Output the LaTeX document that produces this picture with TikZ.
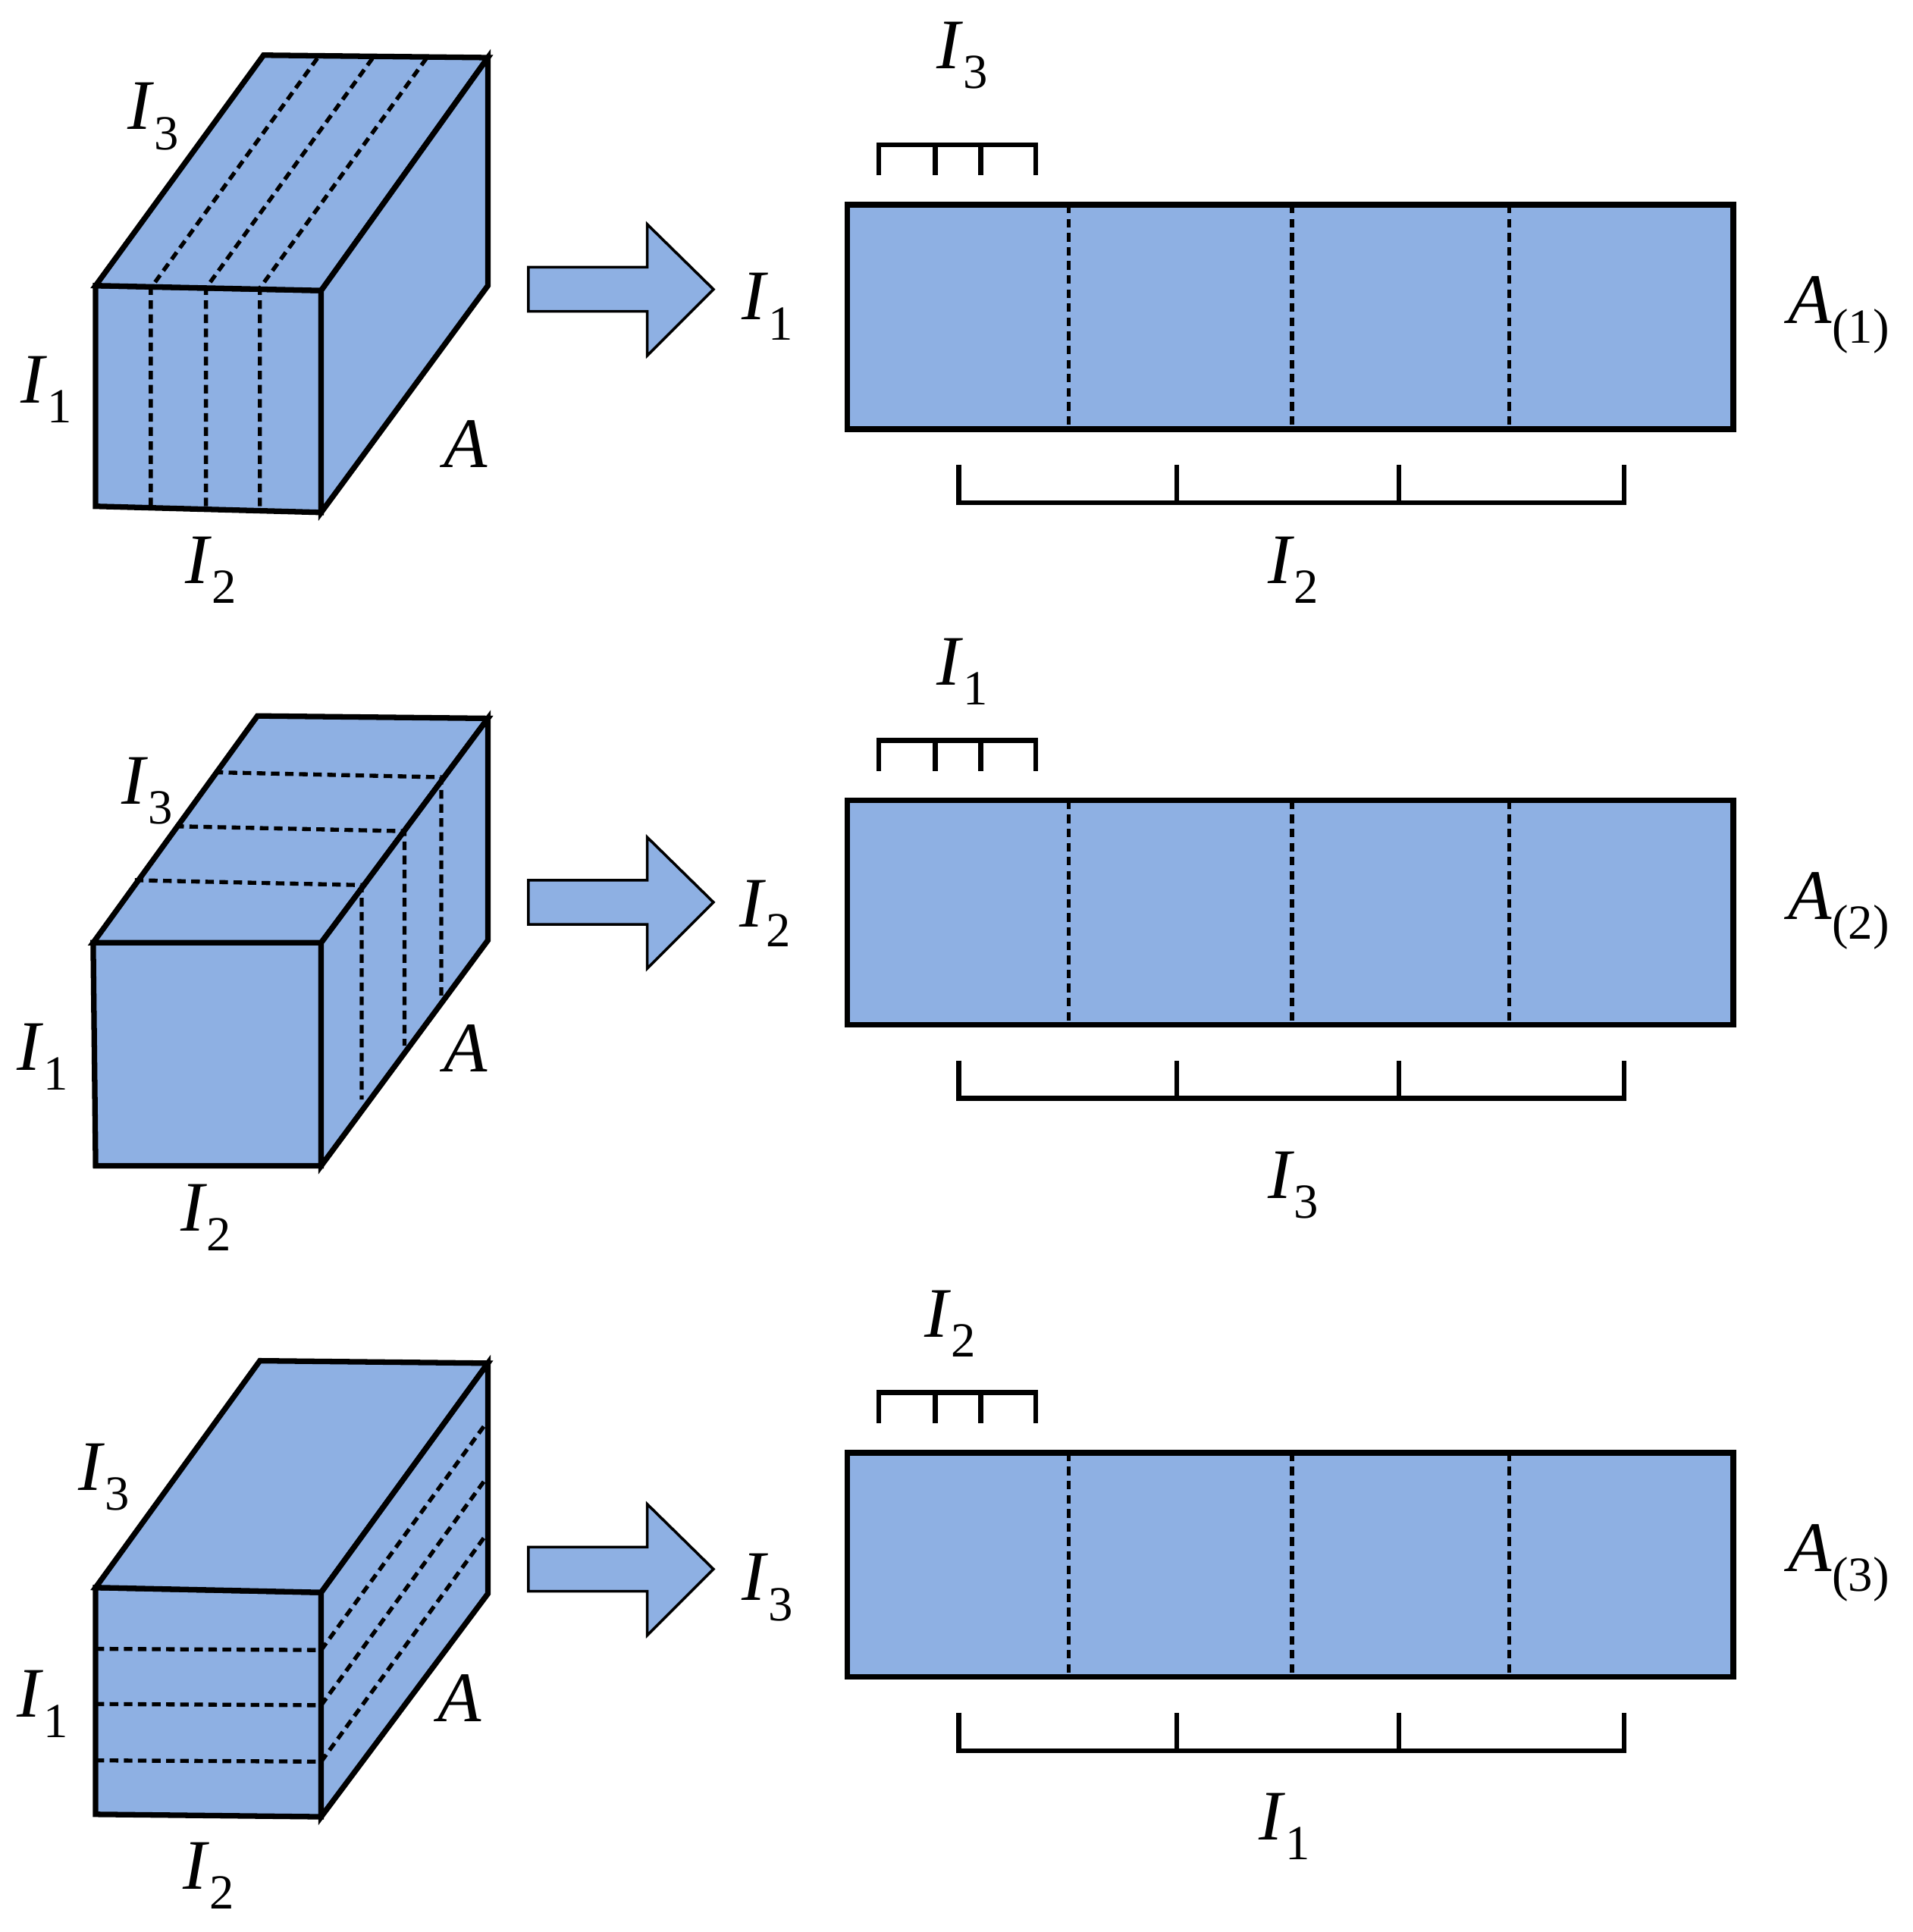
\documentclass[tikz,border=0pt]{standalone}
\usepackage{fontspec}
\setmainfont{Liberation Serif}
\newcommand{\lab}[2]{\textit{#1}\raisebox{-0.28em}{\fontsize{40}{40}\selectfont #2}}
\begin{document}
\begin{tikzpicture}[x=1pt,y=-1pt,
  solid/.style={line width=4.5pt,line join=miter},
  face/.style={solid,fill=blue1,draw=black},
  dsh/.style={line width=3.3pt,dash pattern=on 7pt off 4.5pt},
  br/.style={line width=4pt},
  txt/.style={font=\fontsize{58}{60}\selectfont,inner sep=0pt}]
\definecolor{blue1}{HTML}{8EB0E3}
\useasboundingbox (0,0) rectangle (1560,1576);
% block 1
\draw[face] (78,233)--(262,237)--(262,418)--(78,413)--cycle;
\draw[face] (78,233)--(215,45)--(398,47)--(262,237)--cycle;
\draw[face] (262,237)--(398,47)--(398,233)--(262,418)--cycle;
\foreach \x/\xx in {123/260,168/305,212/349}{
 \draw[dsh] (\x,413)--(\x,235)--(\xx,46);}
\node[txt] (a3) at (125,95) {\lab{I}{3}};
\node[txt] (a1) at (38,318) {\lab{I}{1}};
\node[txt] (aA) at (380,362) {\textit{A}};
\node[txt] (a2) at (172,465) {\lab{I}{2}};
% block 2
\draw[face] (76,769)--(262,769)--(262,951)--(78,951)--cycle;
\draw[face] (76,769)--(210,584)--(398,586)--(262,769)--cycle;
\draw[face] (262,769)--(398,586)--(398,767)--(262,951)--cycle;
\draw[dsh] (175,630)--(360,634)--(360,812);
\draw[dsh] (143,674)--(330,678)--(330,853);
\draw[dsh] (110,718)--(295,722)--(295,897);
\node[txt] (b3) at (120,645) {\lab{I}{3}};
\node[txt] (b1) at (35,862) {\lab{I}{1}};
\node[txt] (bA) at (380,855) {\textit{A}};
\node[txt] (b2) at (168,993) {\lab{I}{2}};
% block 3
\draw[face] (78,1295)--(262,1299)--(262,1482)--(78,1480)--cycle;
\draw[face] (78,1295)--(212,1110)--(398,1112)--(262,1299)--cycle;
\draw[face] (262,1299)--(398,1112)--(398,1300)--(262,1482)--cycle;
\foreach \y in {1345,1390,1436}{
 \draw[dsh] (78,\y)--(262,\y+1)--(398,\y-186);}
\node[txt] (c3) at (85,1205) {\lab{I}{3}};
\node[txt] (c1) at (35,1390) {\lab{I}{1}};
\node[txt] (cA) at (375,1385) {\textit{A}};
\node[txt] (c2) at (170,1530) {\lab{I}{2}};
% arrows
\foreach \c in {236,736,1280}{
 \draw[line width=2.2pt,fill=blue1] (431,\c-18)--(528,\c-18)--(528,\c-53)--(582,\c)--(528,\c+54)--(528,\c+18)--(431,\c+18)--cycle;}
\node[txt] (r1) at (626,250) {\lab{I}{1}};
\node[txt] (r2) at (624,745) {\lab{I}{2}};
\node[txt] (r3) at (626,1295) {\lab{I}{3}};
% matrices
\foreach \t/\s/\A in {167/118/1,653/604/2,1185/1136/3}{
 \draw[face] (691,\t) rectangle (1414,\t+183);
 \foreach \x in {872,1054,1231} \draw[dsh] (\x,\t)--(\x,\t+183);
 \draw[br] (717,\s+25)--(717,\s)--(845,\s)--(845,\s+25);
 \draw[br] (763,\s)--(763,\s+25) (800,\s)--(800,\s+25);
 \draw[br] (782,\t+212)--(782,\t+243)--(1325,\t+243)--(1325,\t+212);
 \draw[br] (960,\t+243)--(960,\t+212) (1141,\t+243)--(1141,\t+212);
 \node[txt] at (1500,\t+90) {\textit{A}\raisebox{-0.28em}{\fontsize{40}{40}\selectfont(\A)}};
}
\node[txt] (m1t) at (785,45) {\lab{I}{3}};
\node[txt] (m1b) at (1055,465) {\lab{I}{2}};
\node[txt] (m2t) at (785,548) {\lab{I}{1}};
\node[txt] (m2b) at (1055,967) {\lab{I}{3}};
\node[txt] (m3t) at (775,1080) {\lab{I}{2}};
\node[txt] (m3b) at (1048,1490) {\lab{I}{1}};
\end{tikzpicture}
\end{document}
